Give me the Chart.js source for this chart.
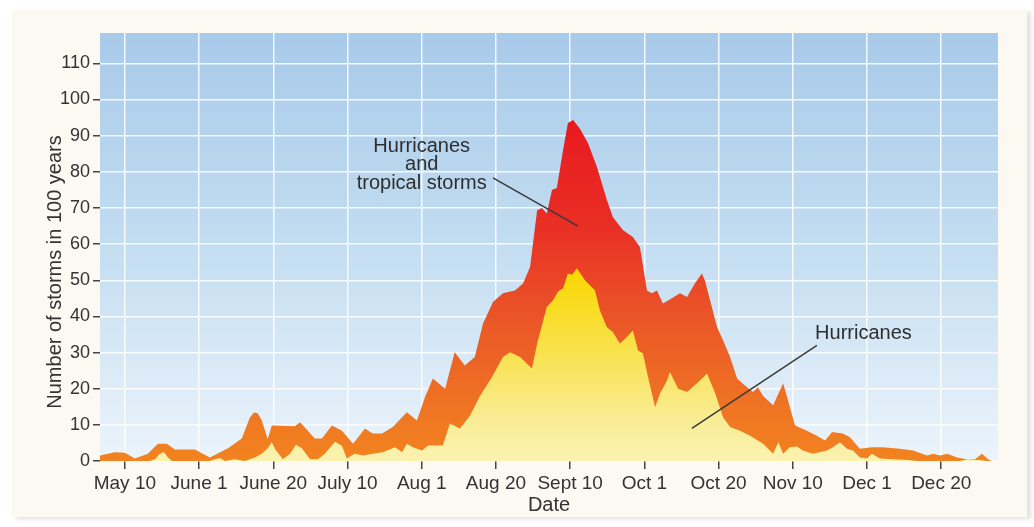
<!DOCTYPE html>
<html>
<head>
<meta charset="utf-8">
<title>Storms per date</title>
<script src="https://cdn.jsdelivr.net/npm/chart.js@4"></script>
<style>
  html, body { margin: 0; padding: 0; background: #fff; }
  .card {
    position: absolute; left: 12px; top: 10px; width: 1015px; height: 507px;
    background: #fbf9f1;
    box-shadow: 4px 2px 4px rgba(0,0,0,0.12);
  }
  .wrap { position: absolute; left: 0; top: 0; width: 1034px; height: 527px; }
</style>
</head>
<body>
<div class="card"></div>
<div class="wrap"><canvas id="stormChart" width="1034" height="527"></canvas></div>
<script>
// x values are days counted from May 10
const tickDays = [0, 20, 40, 60, 80, 100, 120, 140, 160, 180, 200, 220];
const tickLabels = ['May 10', 'June 1', 'June 20', 'July 10', 'Aug 1', 'Aug 20',
  'Sept 10', 'Oct 1', 'Oct 20', 'Nov 10', 'Dec 1', 'Dec 20'];

// hurricanes and tropical storms
const totalDays = [-6.7, -2.7, 0, 2.7, 6.2, 8.9, 11.3, 13.5, 18.9, 22.9, 27.8, 31.5, 33.7, 34.8, 35.8,
  36.9, 38.5, 39.6, 45.8, 47.2, 51.2, 53.1, 55.8, 58.5, 61.5, 64.7, 66.8, 69.3, 72.2, 76, 78.7,
  80.9, 83, 86.3, 88.9, 91.6, 94.3, 96.5, 99.2, 101.9, 105.1, 107.3, 109.2, 111.1, 112.4, 113.7,
  115.1, 116.4, 118.1, 119.4, 120.8, 122.6, 124.8, 127.2, 129.9, 131.5, 134.2, 136.9, 138.8,
  140.7, 142, 143.4, 145, 147.4, 149.6, 151.5, 153.6, 155.5, 156.3, 157.7, 159.6, 161.2, 163.1,
  165, 166.4, 167.7, 169.3, 170.6, 172, 174.7, 177.4, 178.7, 180.6, 183.8, 186.5, 188.7, 190.6,
  193.5, 195.4, 198.1, 201.3, 204.3, 208.9, 212.4, 216.2, 217.8, 219.7, 221.6, 224.3, 226.9,
  229.1, 231, 232.6, 233.7];
const totalCounts = [1.5, 2.4, 2.3, 0.7, 2, 4.8, 4.8, 3.2, 3.2, 1, 3.5, 6.2, 12, 13.4, 13.2,
  11.2, 6, 9.8, 9.6, 10.7, 6.2, 6.2, 9.8, 8.4, 4.8, 9, 7.6, 7.6, 9.4, 13.5, 11.2,
  17.7, 22.8, 20, 30.1, 26.4, 28.8, 38, 44, 46.4, 47.2, 49.1, 53.7, 69.4, 70, 68.5,
  75, 75.5, 86, 93.5, 94.3, 92, 88, 81.4, 72.2, 67.5, 63.9, 62, 59.2,
  47.2, 46.4, 47.2, 43.6, 45, 46.4, 45.4, 49.1, 51.9, 50, 44.5, 37, 33.4, 28.8,
  22.8, 21.5, 20.4, 19.1, 20.4, 18, 15.4, 21.5, 16.8, 9.8, 8.4, 7, 5.7, 8,
  7.6, 6.6, 3.4, 3.8, 3.8, 3.4, 2.9, 1.5, 2, 1.5, 2, 1, 0.5,
  0.5, 2, 0.5, 0];

// hurricanes only
const hurricaneDays = [-6.7, 6.7, 8.1, 9.4, 10.5, 11.6, 12.7, 22.9, 24.3, 25.6, 27, 29.6, 32.3, 35,
  36.9, 38.5, 39.6, 40.7, 42.6, 44.5, 46.1, 47.7, 49.9, 52, 53.9, 56.6, 58.5, 59.8, 61.9, 64.2,
  66.8, 69.5, 72.8, 74.7, 76, 77.6, 80.1, 81.7, 85.7, 87.6, 90.3, 93, 95.7, 98.9, 101.9, 103.8,
  106.5, 109.7, 111.1, 113.7, 115.4, 116.7, 118.1, 119.4, 120.5, 121.8, 124, 125.3, 126.7, 128,
  129.9, 131.5, 133.4, 135.3, 136.9, 138.3, 139.6, 141, 142.9, 144.2, 146.1, 146.9, 149.1, 151.5,
  154.2, 156.9, 159.1, 161.2, 163.1, 165.8, 168.5, 172, 174.7, 176.1, 177.4, 179.2, 181.1, 182.7,
  185.4, 189.2, 190.8, 192.7, 194.6, 196.2, 198.1, 200, 201.3, 203.5, 207, 210.8, 213.5, 225.1,
  227.2, 229.9, 232.6];
const hurricaneCounts = [0, 0, 0.5, 2, 2.5, 1, 0, 0, 0.5, 0.8, 0, 0.5, 0, 1,
  2, 3.5, 5.2, 3, 0.5, 2, 4.5, 3.5, 0.5, 0.5, 2, 5.3, 4.2, 0.7, 2, 1.5,
  2, 2.4, 3.8, 2.4, 4.8, 3.8, 2.9, 4.3, 4.3, 10.4, 9, 12.5, 18, 23.2, 28.8, 30.1,
  28.8, 25.6, 32.5, 42.6, 44.5, 46.8, 47.8, 51.9, 51.5, 53.3, 50, 48.6, 47.2, 41.7,
  37, 35.7, 32.5, 34.3, 36.1, 30.6, 29.8, 23.2, 14.9, 18.7, 22.3, 24.6, 20, 19.1,
  21.5, 24.2, 18.7, 12.1, 9.4, 8.4, 7, 4.8, 2, 5.2, 2, 3.8, 4, 2.9,
  2, 2.9, 3.8, 5.2, 3.4, 2.9, 1, 0.7, 2, 0.7, 0.5, 0.3, 0, 0,
  0.5, 0.3, 0];

const FONT = "'Liberation Sans', Arial, Helvetica, sans-serif";
const INK = '#333';

function toPoints(xs, ys) {
  return xs.map((x, i) => ({ x: x, y: ys[i] }));
}

function valueGradient(chart, stops) {
  const area = chart.chartArea;
  if (!area) return null;
  const y = chart.scales.y;
  const g = chart.ctx.createLinearGradient(0, y.getPixelForValue(stops[0][0]), 0, y.getPixelForValue(0));
  const top = stops[0][0];
  stops.forEach(s => g.addColorStop(1 - s[0] / top, s[1]));
  return g;
}

// blue sky behind the plot
const plotBackground = {
  id: 'plotBackground',
  beforeDraw(chart) {
    const { ctx, chartArea: a } = chart;
    const g = ctx.createLinearGradient(0, a.top, 0, a.bottom);
    g.addColorStop(0, '#a8cae9');
    g.addColorStop(0.5, '#c3ddf1');
    g.addColorStop(1, '#ecf4fb');
    ctx.save();
    ctx.fillStyle = g;
    ctx.fillRect(a.left, a.top, a.right - a.left, a.bottom - a.top);
    ctx.restore();
  }
};

// callout labels and the y title
const notes = {
  id: 'notes',
  afterDatasetsDraw(chart) {
    const { ctx, scales: { x, y } } = chart;
    const px = d => x.getPixelForValue(d);
    const py = v => y.getPixelForValue(v);
    ctx.save();
    ctx.fillStyle = '#2e2e2e';
    ctx.strokeStyle = '#3a3a3a';
    ctx.lineWidth = 1.5;
    ctx.font = '20px ' + FONT;
    ctx.textBaseline = 'middle';
    ctx.textAlign = 'center';
    ctx.fillText('Hurricanes', px(80), py(86.9));
    ctx.fillText('and', px(80), py(82.1));
    ctx.fillText('tropical storms', px(80), py(76.9));
    ctx.beginPath();
    ctx.moveTo(px(99.2), py(78.3));
    ctx.lineTo(px(122.1), py(65));
    ctx.stroke();

    ctx.textAlign = 'left';
    ctx.fillText('Hurricanes', px(186), py(35.3));
    ctx.beginPath();
    ctx.moveTo(px(186.5), py(32));
    ctx.lineTo(px(152.8), py(9));
    ctx.stroke();
    ctx.restore();
  },
  afterDraw(chart) {
    const ctx = chart.ctx;
    ctx.save();
    ctx.translate(55, 272);
    ctx.rotate(-Math.PI / 2);
    ctx.fillStyle = INK;
    ctx.font = '20px ' + FONT;
    ctx.textAlign = 'center';
    ctx.textBaseline = 'middle';
    ctx.fillText('Number of storms in 100 years', 0, 0);
    ctx.restore();
  }
};

new Chart(document.getElementById('stormChart'), {
  type: 'line',
  data: {
    datasets: [
      {
        label: 'Hurricanes',
        data: toPoints(hurricaneDays, hurricaneCounts),
        fill: 'origin',
        order: 0,
        borderWidth: 0,
        pointRadius: 0,
        tension: 0,
        backgroundColor: ctx => valueGradient(ctx.chart, [
          [53, '#f9d700'], [30, '#f9e24e'], [12, '#f9ec94'], [0, '#faf2b0']
        ])
      },
      {
        label: 'Hurricanes and tropical storms',
        data: toPoints(totalDays, totalCounts),
        fill: 'origin',
        order: 1,
        borderWidth: 0,
        pointRadius: 0,
        tension: 0,
        backgroundColor: ctx => valueGradient(ctx.chart, [
          [95, '#e8191f'], [65, '#e92f25'], [40, '#ea5527'], [15, '#ef7423'], [0, '#f2831f']
        ])
      }
    ]
  },
  options: {
    responsive: false,
    animation: false,
    layout: { padding: { top: 33, right: 36, left: 0, bottom: 0 } },
    plugins: {
      legend: { display: false },
      tooltip: { enabled: false }
    },
    scales: {
      x: {
        type: 'linear',
        min: -6.7,
        max: 235.3,
        afterBuildTicks: s => { s.ticks = tickDays.map(v => ({ value: v })); },
        afterFit: s => { s.height = 66; },
        grid: {
          color: 'rgba(255,255,255,0.85)',
          lineWidth: 1.5,
          tickColor: '#444',
          tickWidth: 1.5,
          tickLength: 8
        },
        border: { display: false },
        ticks: {
          autoSkip: false,
          maxRotation: 0,
          padding: 3,
          color: INK,
          font: { family: FONT, size: 19 },
          callback: (v, i) => tickLabels[i]
        },
        title: {
          display: true,
          text: 'Date',
          color: INK,
          font: { family: FONT, size: 20 },
          padding: { top: 0, bottom: 10 }
        }
      },
      y: {
        min: 0,
        max: 118.4,
        afterBuildTicks: s => { s.ticks = s.ticks.filter(t => t.value % 10 === 0); },
        afterFit: s => { s.width = 100; },
        grid: {
          color: 'rgba(255,255,255,0.85)',
          lineWidth: 1.5,
          tickColor: '#444',
          tickWidth: 1.5,
          tickLength: 7
        },
        border: { display: false },
        ticks: {
          stepSize: 10,
          padding: 3,
          color: INK,
          font: { family: FONT, size: 18 }
        }
      }
    }
  },
  plugins: [plotBackground, notes]
});
</script>
</body>
</html>
